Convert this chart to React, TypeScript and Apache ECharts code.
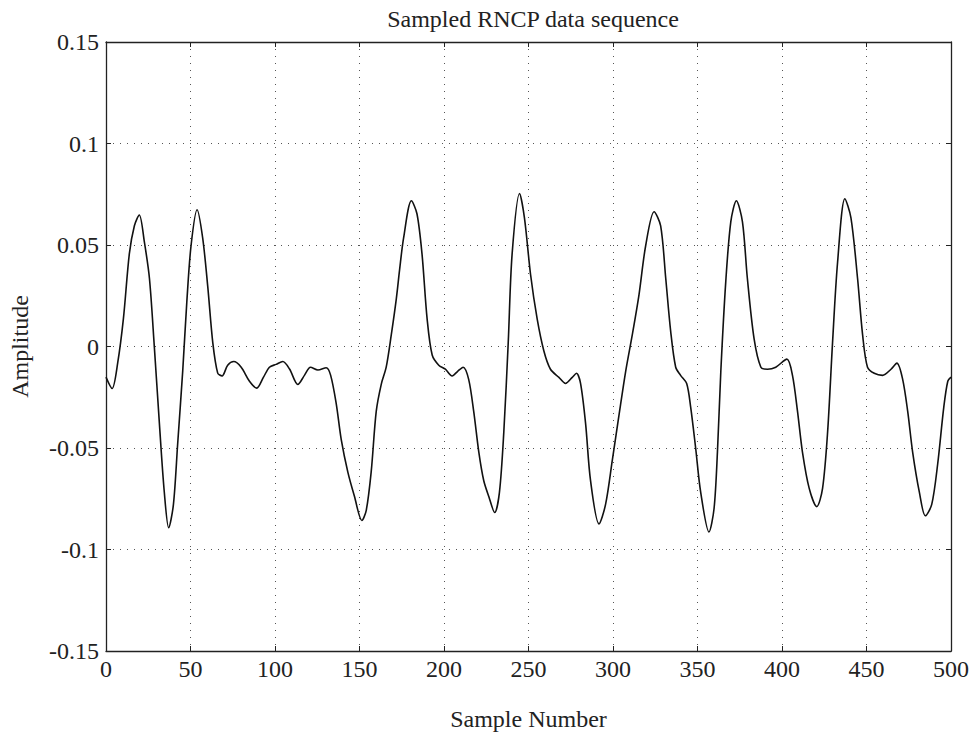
import React, { useEffect, useRef } from "react";
import * as echarts from "echarts";

const sampleIdx = [0, 3.6, 6.9, 10.3, 13.8, 16.8, 19.7, 22.7, 25.7, 28.6, 31.6, 34.5, 37.1, 39.9, 42.4, 45.4, 47.8, 50.3, 53.9, 57.2, 60.2, 63.2, 66.1, 68.7, 72, 75.6, 80, 84.9, 89.2, 93.2, 96.7, 100.7, 104.6, 108.6, 113.5, 117.5, 121, 125.4, 130.3, 132.9, 136.2, 139.2, 143.1, 147, 151.4, 154, 156.9, 159.9, 162.9, 165.8, 168.8, 171.8, 173.7, 176.1, 180.7, 184, 187, 190, 193, 196.9, 200.8, 204.8, 208.1, 211.3, 214.6, 217.6, 220.6, 223.5, 226.5, 230, 232.8, 235.4, 238, 240.3, 244.7, 247.6, 251.2, 255.1, 259.1, 263, 268, 271.9, 275.9, 278.4, 280.8, 283.8, 286.7, 291.7, 295.6, 299.6, 303.5, 307.5, 311.4, 315.4, 319.3, 324.3, 328.2, 331.2, 334.1, 337.1, 340, 343.6, 346, 348.9, 351.9, 356.8, 359.8, 361.8, 363.8, 366.7, 369.7, 373, 376.6, 379.5, 383.5, 387.5, 391.4, 396.3, 402.9, 406.2, 409.2, 412.1, 416.1, 420.6, 424, 427, 429.9, 432.9, 437.2, 440.8, 444.7, 447.7, 450.6, 454.6, 459.5, 464.5, 468, 471.4, 474.4, 477.3, 481.3, 484.8, 488.6, 492.1, 495.7, 498.1, 500];

const amplitude = [-0.0151, -0.0207, -0.0082, 0.0137, 0.0456, 0.0595, 0.0648, 0.0515, 0.0336, -0.0002, -0.038, -0.0718, -0.0893, -0.0778, -0.048, -0.012, 0.0217, 0.0495, 0.0674, 0.0535, 0.0296, 0.0018, -0.0131, -0.0145, -0.0092, -0.0074, -0.0102, -0.0171, -0.0205, -0.0151, -0.0102, -0.0088, -0.0074, -0.0111, -0.0187, -0.0141, -0.0102, -0.0116, -0.0105, -0.0141, -0.028, -0.0459, -0.0619, -0.0738, -0.0857, -0.0807, -0.0619, -0.032, -0.0185, -0.0102, 0.0057, 0.0236, 0.0376, 0.0535, 0.0718, 0.0654, 0.0455, 0.0137, -0.0042, -0.0092, -0.0112, -0.0145, -0.0122, -0.0102, -0.0162, -0.0321, -0.052, -0.066, -0.0739, -0.0818, -0.0719, -0.042, 0.0018, 0.0455, 0.0754, 0.0634, 0.0356, 0.0137, -0.0022, -0.0112, -0.0152, -0.0182, -0.0152, -0.0132, -0.0182, -0.0381, -0.066, -0.0874, -0.0778, -0.056, -0.0341, -0.0122, 0.0057, 0.0256, 0.0495, 0.0664, 0.0594, 0.0336, 0.0077, -0.0102, -0.0142, -0.0182, -0.0301, -0.05, -0.0719, -0.0914, -0.0798, -0.052, -0.0122, 0.0316, 0.0614, 0.0718, 0.0614, 0.0336, 0.0037, -0.0102, -0.0112, -0.0102, -0.0062, -0.0142, -0.0321, -0.052, -0.0699, -0.0789, -0.0699, -0.042, 0.0018, 0.0416, 0.0728, 0.0634, 0.0336, 0.0057, -0.0102, -0.0132, -0.0142, -0.0112, -0.0082, -0.0162, -0.0321, -0.052, -0.0719, -0.0834, -0.0778, -0.058, -0.0301, -0.0171, -0.0151];

const xTicks = [0, 50, 100, 150, 200, 250, 300, 350, 400, 450, 500];
const yTicks = [-0.15, -0.1, -0.05, 0, 0.05, 0.1, 0.15];

const FONT = "'Liberation Serif', 'DejaVu Serif', serif";

export default function App() {
  const ref = useRef<HTMLDivElement>(null);
  useEffect(() => {
    if (!ref.current) return;
    const chart = echarts.init(ref.current, null, { renderer: "svg" });
    const data = sampleIdx.map((x, i) => [x, amplitude[i]]);
    const fmtY = (v: number) => {
      const r = Math.round(v * 100) / 100;
      if (r === 0) return "0";
      return String(r);
    };
    const gridLine = { show: true, lineStyle: { color: "#555", type: [1, 6] as any, width: 1 } };
    const frameLine = { show: true, onZero: false, lineStyle: { color: "#222", width: 1.3 } };
    const tick = { show: true, inside: true, length: 5, lineStyle: { color: "#222" } };
    chart.setOption({
      animation: false,
      backgroundColor: "#fff",
      title: {
        text: "Sampled RNCP data sequence",
        left: 528,
        top: 2,
        textAlign: "center",
        textStyle: { fontFamily: FONT, fontSize: 24, fontWeight: "normal", color: "#222" },
      },
      grid: { left: 106, right: 24, top: 42, bottom: 86, show: false },
      xAxis: [
        {
          type: "value",
          min: 0,
          max: 500,
          interval: 50,
          position: "bottom",
          name: "Sample Number",
          nameLocation: "middle",
          nameGap: 56,
          nameTextStyle: { fontFamily: FONT, fontSize: 24, color: "#222" },
          axisLine: frameLine,
          axisTick: tick,
          axisLabel: { fontFamily: FONT, fontSize: 24, color: "#222", margin: 6 },
          splitLine: gridLine,
        },
        {
          type: "value",
          min: 0,
          max: 500,
          interval: 50,
          position: "top",
          axisLine: frameLine,
          axisTick: tick,
          axisLabel: { show: false },
          splitLine: { show: false },
        },
      ],
      yAxis: [
        {
          type: "value",
          min: -0.15,
          max: 0.15,
          interval: 0.05,
          position: "left",
          name: "Amplitude",
          nameLocation: "middle",
          nameGap: 74,
          nameTextStyle: { fontFamily: FONT, fontSize: 24, color: "#222" },
          axisLine: frameLine,
          axisTick: tick,
          axisLabel: { fontFamily: FONT, fontSize: 24, color: "#222", margin: 7, formatter: fmtY },
          splitLine: gridLine,
        },
        {
          type: "value",
          min: -0.15,
          max: 0.15,
          interval: 0.05,
          position: "right",
          axisLine: frameLine,
          axisTick: tick,
          axisLabel: { show: false },
          splitLine: { show: false },
        },
      ],
      series: [
        {
          type: "line",
          data,
          xAxisIndex: 0,
          yAxisIndex: 0,
          smooth: 0.3,
          showSymbol: false,
          lineStyle: { color: "#111", width: 1.6 },
        },
      ],
    });
    return () => chart.dispose();
  }, []);
  return (
    <div
      ref={ref}
      style={{ position: "absolute", left: 0, top: 0, width: 975, height: 737 }}
    />
  );
}

void yTicks;
void xTicks;
